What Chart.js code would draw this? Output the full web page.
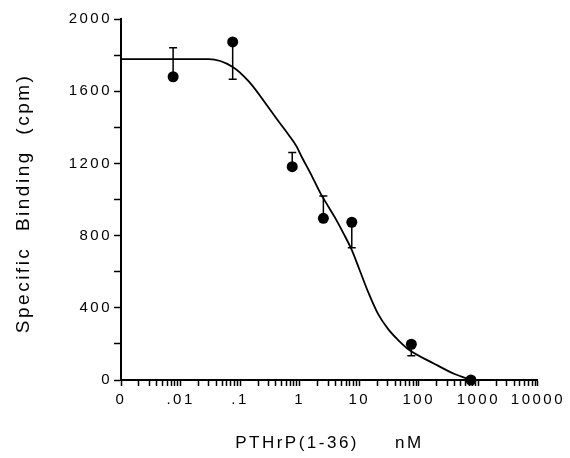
<!DOCTYPE html>
<html>
<head>
    <style>
        body {
            margin: 0;
            padding: 0;
            background-color: #fff;
        }
        #chartContainer {
            width: 570px;
            height: 458px;
        }
    </style>
</head>
<body>
    <div id="chartContainer">
        <canvas id="bindingChart" width="570" height="458"></canvas>
    </div>

    <script src="https://cdn.jsdelivr.net/npm/chart.js"></script>

    <script>
// measured points: PTHrP dose (nM) and specific binding (cpm)
const doseNM = [0.0075, 0.075, 0.75, 2.5, 7.5, 75, 750];
const bindingCpm = [1680, 1873, 1182, 896, 874, 198, 0];
// far end of each one-sided error bar (null = no bar)
const errorEnd = [1841, 1666, 1261, 1019, 733, 135, null];

// fitted curve
const curveX = [0.001, 0.0066, 0.03, 0.074, 0.141, 0.304, 0.447, 0.656, 0.891, 1.08, 1.52, 2.24, 3.04, 4.14, 5.41, 7.36, 10, 14.1, 20.7, 30.4, 44.7, 65.6, 185, 398, 764];
const curveY = [1778, 1778, 1778, 1736, 1653, 1507, 1431, 1357, 1293, 1237, 1145, 1034, 960, 886, 814, 726, 615, 488, 366, 283, 222, 172, 89, 33, 0];

// axis ticks ("0" sits at the left end of the log axis)
const xTickValues = [0.001, 0.01, 0.1, 1, 10, 100, 1000, 10000];
const xTickLabels = ['0', '.01', '.1', '1', '10', '100', '1000', '10000'];
const yTickValues = [0, 400, 800, 1200, 1600, 2000];
const yTickLabels = ['0', '400', '800', '1200', '1600', '2000'];

const fontFamily = "'Liberation Sans', Arial, sans-serif";

// the figure's type is loosely spaced
const letterSpacing = {
    id: 'letterSpacing',
    beforeUpdate(chart) { chart.ctx.letterSpacing = '2.5px'; },
    beforeDraw(chart) { chart.ctx.letterSpacing = '2.5px'; }
};

// one-sided error bars with small caps
const errorBars = {
    id: 'errorBars',
    afterDatasetsDraw(chart) {
        const { ctx, scales: { x, y } } = chart;
        ctx.save();
        ctx.strokeStyle = '#000';
        ctx.lineWidth = 1.5;
        for (let i = 0; i < doseNM.length; i++) {
            if (errorEnd[i] === null) continue;
            const px = x.getPixelForValue(doseNM[i]);
            const y0 = y.getPixelForValue(bindingCpm[i]);
            const y1 = y.getPixelForValue(errorEnd[i]);
            ctx.beginPath();
            ctx.moveTo(px, y0);
            ctx.lineTo(px, y1);
            ctx.moveTo(px - 4, y1);
            ctx.lineTo(px + 4, y1);
            ctx.stroke();
        }
        ctx.restore();
    }
};

function findLabel(v) {
    for (let i = 0; i < xTickValues.length; i++) {
        if (Math.abs(Math.log10(v) - Math.log10(xTickValues[i])) < 1e-6) return xTickLabels[i];
    }
    return '';
}

const ctx = document.getElementById('bindingChart').getContext('2d');
new Chart(ctx, {
    type: 'scatter',
    data: {
        datasets: [
            {
                label: 'fit',
                type: 'line',
                data: curveX.map((v, i) => ({ x: v, y: curveY[i] })),
                borderColor: '#000',
                borderWidth: 1.8,
                pointRadius: 0,
                fill: false,
                cubicInterpolationMode: 'monotone'
            },
            {
                label: 'binding',
                data: doseNM.map((v, i) => ({ x: v, y: bindingCpm[i] })),
                backgroundColor: '#000',
                borderWidth: 0,
                pointRadius: 5.5,
                clip: false
            }
        ]
    },
    options: {
        responsive: false,
        animation: false,
        layout: { padding: { top: 19, right: 29, left: 0, bottom: 0 } },
        plugins: {
            legend: { display: false },
            tooltip: { enabled: false }
        },
        scales: {
            x: {
                type: 'logarithmic',
                min: 0.001,
                max: 10000,
                afterBuildTicks(scale) {
                    const ticks = [];
                    for (let d = 0; d < xTickValues.length - 1; d++) {
                        for (let k = 1; k <= 9; k++) ticks.push({ value: xTickValues[d] * k });
                    }
                    ticks.push({ value: xTickValues[xTickValues.length - 1] });
                    scale.ticks = ticks;
                },
                afterFit(scale) { scale.height = 78; },
                ticks: {
                    autoSkip: false,
                    maxRotation: 0,
                    minRotation: 0,
                    padding: 5,
                    color: '#000',
                    font: { family: fontFamily, size: 15 },
                    callback: (v) => findLabel(v)
                },
                grid: {
                    drawOnChartArea: false,
                    drawTicks: true,
                    tickLength: 6,
                    tickColor: '#000',
                    tickWidth: 1.5
                },
                border: { display: true, color: '#000', width: 2 },
                title: {
                    display: true,
                    text: 'PTHrP(1-36)     nM',
                    color: '#000',
                    font: { family: fontFamily, size: 17 },
                    padding: { top: 0, bottom: 4 }
                }
            },
            y: {
                min: 0,
                max: 2000,
                afterFit(scale) { scale.width = 121; },
                ticks: {
                    stepSize: 200,
                    padding: 2,
                    color: '#000',
                    font: { family: fontFamily, size: 15 },
                    callback: (v) => {
                        const i = yTickValues.indexOf(v);
                        return i >= 0 ? yTickLabels[i] : '';
                    }
                },
                grid: {
                    drawOnChartArea: false,
                    drawTicks: true,
                    tickLength: 7,
                    tickColor: '#000',
                    tickWidth: 1.5
                },
                border: { display: true, color: '#000', width: 2 },
                title: {
                    display: true,
                    text: 'Specific  Binding  (cpm) ',
                    color: '#000',
                    font: { family: fontFamily, size: 19 },
                    padding: { top: 12, bottom: 0 }
                }
            }
        }
    },
    plugins: [letterSpacing, errorBars]
});
    </script>
</body>
</html>
